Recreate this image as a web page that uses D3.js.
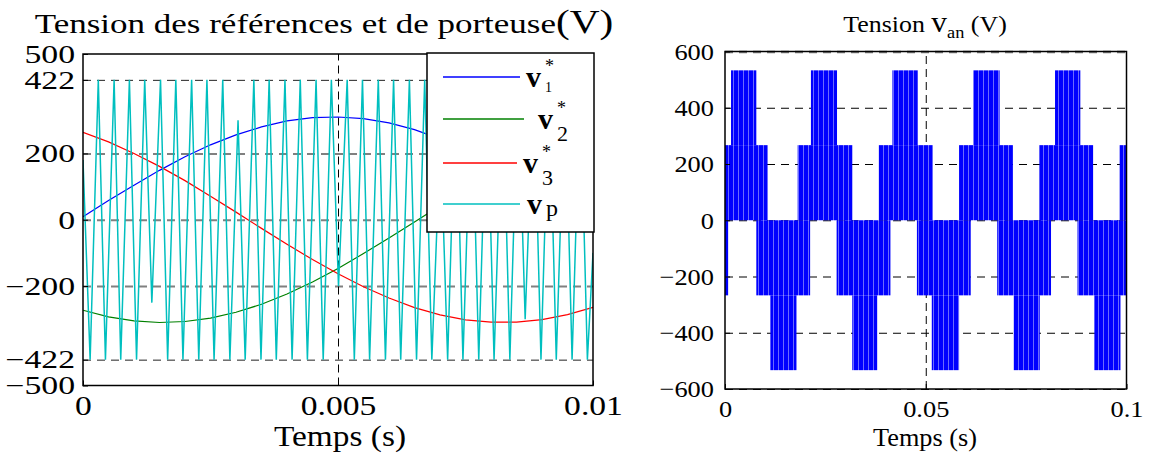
<!DOCTYPE html>
<html><head><meta charset="utf-8">
<script src="https://cdn.jsdelivr.net/npm/d3@7"></script>
<style>
body{margin:0;background:#fff}
svg{display:block}
text{font-family:"Liberation Serif","Times New Roman",serif;fill:#000}
</style>
</head><body>
<svg id="c" width="1149" height="457"></svg>
<script>
// ---------------- DATA ----------------
// reference voltages (left chart), time in s
const refTimes = [0,0.0005,0.001,0.0015,0.002,0.0025,0.003,0.0035,0.004,0.0045,0.005,0.0055,0.006,0.0065,0.007,0.0075,0.008,0.0085,0.009,0.0095,0.01];
const v1Ref = [9,58,104,149,190,226,256,280,298,308,310,305,292,272,244,212,174,133,88,40,-9];
const v2Ref = [-273,-293,-305,-310,-307,-297,-279,-255,-224,-188,-147,-102,-55,-7,42,89,135,177,214,247,273];
const v3Ref = [264,235,200,161,118,71,23,-26,-74,-120,-163,-202,-236,-265,-287,-302,-309,-309,-301,-286,-264];
// carrier vertices (time in ms, value in V)
const carrierT = [0,0.14,0.30,0.44,0.61,0.74,0.91,1.05,1.21,1.35,1.52,1.66,1.82,1.96,2.13,2.27,2.43,2.57,2.74,2.88,3.04,3.18,3.35,3.49,3.65,3.79,3.96,4.10,4.26,4.40,4.57,4.71,4.87,5.01,5.18,5.32,5.48,5.62,5.79,5.93,6.09,6.23,6.40,6.54,6.70,6.84,7.01,7.15,7.31,7.45,7.62,7.76,7.92,8.06,8.23,8.37,8.53,8.67,8.84,8.98,9.14,9.28,9.45,9.59,9.75,9.89,10.0];
const carrierV = [180,-422,422,-422,422,-422,422,-422,422,-250,422,-422,422,-422,422,-422,422,-422,422,-422,300,-422,422,-422,422,-422,422,-422,422,-422,422,-422,422,-200,422,-422,422,-422,422,-422,422,-422,422,-422,422,-422,260,-422,422,-422,422,-422,422,-422,422,-422,422,-300,422,-422,422,-422,422,-422,422,-422,-100];
const legendNames = ["1","2","3","p"];
const legendStar = [true,true,true,false];
const leftYTicks = [500,422,200,0,-200,-422,-500];
const leftYGrid = [422,200,0,-200,-422];
const leftXTicks = [0,0.005,0.01];
const leftXLabels = ["0","0.005","0.01"];

// phase voltage v_an (right chart): switching bands [t0,t1] (s)
const vanLevels = [-533,-267,0,267,533];
const vanPosLow  = [[0,0.0106],[0.0181,0.0317],[0.0383,0.0517],[0.0583,0.0717],[0.0783,0.0917],[0.0983,0.1]];
const vanPosHigh = [[0.0015,0.0078],[0.0214,0.0279],[0.0417,0.0480],[0.0618,0.0684],[0.0822,0.0885]];
const vanNegLow  = [[0,0.0008],[0.0078,0.0212],[0.0278,0.0412],[0.0478,0.0612],[0.0678,0.0812],[0.0878,0.1]];
const vanNegHigh = [[0.0113,0.0178],[0.0317,0.0379],[0.0515,0.0583],[0.0719,0.0784],[0.0920,0.0985]];
const rightYTicks = [600,400,200,0,-200,-400,-600];
const rightXTicks = [0,0.05,0.1];
const rightXLabels = ["0","0.05","0.1"];

// ---------------- DRAW ----------------
const svg = d3.select("#c");
svg.append("rect").attr("width",1149).attr("height",457).attr("fill","#fff");
const defs = svg.append("defs");
const pat = defs.append("pattern").attr("id","stripes").attr("patternUnits","userSpaceOnUse").attr("width",5).attr("height",10);
pat.append("rect").attr("width",5).attr("height",10).attr("fill","#0000ff");
pat.append("rect").attr("x",3).attr("width",1).attr("height",10).attr("fill","#6a6aff");

const colors = ["#0000ff","#008000","#ff0000","#00bfbf"];

// ---- left chart ----
const L = {x0:83, x1:593, y0:54, y1:385.5, sx:1.35, fs:25};
const xL = d3.scaleLinear().domain([0,0.01]).range([L.x0,L.x1]);
const yL = d3.scaleLinear().domain([-500,500]).range([L.y1,L.y0]);
defs.append("clipPath").attr("id","clipL").append("rect")
  .attr("x",L.x0).attr("y",L.y0).attr("width",L.x1-L.x0).attr("height",L.y1-L.y0);

// grid
const gL = svg.append("g");
gL.append("g").attr("transform",`translate(${L.x0},0)`)
  .call(d3.axisLeft(yL).tickValues(leftYGrid).tickSize(-(L.x1-L.x0)).tickFormat(""))
  .call(g=>g.select(".domain").remove())
  .call(g=>g.selectAll("line").attr("stroke",d=>Math.abs(d)===422?"#222":"#808080")
      .attr("stroke-width",d=>Math.abs(d)===422?1:2).attr("stroke-dasharray","8,6"));
gL.append("g").attr("transform",`translate(0,${L.y1})`)
  .call(d3.axisBottom(xL).tickValues([0.005]).tickSize(-(L.y1-L.y0)).tickFormat(""))
  .call(g=>g.select(".domain").remove())
  .call(g=>g.selectAll("line").attr("stroke","#000").attr("stroke-dasharray","8,5"));

// series
const lineRef = (vals)=>d3.line().x((d,i)=>xL(refTimes[i])).y(d=>yL(d))(vals);
const plotL = svg.append("g").attr("clip-path","url(#clipL)");
[v1Ref,v2Ref,v3Ref].forEach((vals,k)=>{
  plotL.append("path").attr("d",lineRef(vals)).attr("fill","none").attr("stroke",colors[k]).attr("stroke-width",1.2);
});
plotL.append("path")
  .attr("d",d3.line().x((d,i)=>xL(carrierT[i]/1000)).y(d=>yL(d))(carrierV))
  .attr("fill","none").attr("stroke",colors[3]).attr("stroke-width",1.5);

// frame + axes
svg.append("rect").attr("x",L.x0).attr("y",L.y0).attr("width",L.x1-L.x0).attr("height",L.y1-L.y0)
  .attr("fill","none").attr("stroke","#000").attr("stroke-width",1.5);
svg.append("g").attr("transform",`translate(${L.x0},0)`)
  .call(d3.axisLeft(yL).tickValues(leftYTicks).tickSizeInner(-5).tickSizeOuter(0).tickFormat(d3.format("d")))
  .call(g=>g.select(".domain").remove())
  .call(g=>g.selectAll("line").attr("stroke","#000"))
  .call(g=>g.selectAll("text").attr("font-size",L.fs).attr("font-family","Liberation Serif")
     .attr("fill","#000").attr("transform",`scale(${L.sx},1)`).attr("x",-8/L.sx).attr("dy","0.33em"));
svg.append("g").attr("transform",`translate(0,${L.y1})`)
  .call(d3.axisBottom(xL).tickValues(leftXTicks).tickSizeInner(-5).tickSizeOuter(0).tickFormat((d,i)=>leftXLabels[i]))
  .call(g=>g.select(".domain").remove())
  .call(g=>g.selectAll("line").attr("stroke","#000"))
  .call(g=>g.selectAll("text").attr("font-size",28).attr("font-family","Liberation Serif")
     .attr("fill","#000").attr("transform",`scale(1.2,1)`).attr("y",30).attr("dy",0));

function stxt(x,y,size,sx,anchor){
  return svg.append("text").attr("transform",`translate(${x},${y}) scale(${sx},1)`)
    .attr("text-anchor",anchor).attr("font-size",size);
}
// title
const tL = stxt(324,33,28,1.25,"middle");
tL.append("tspan").text("Tension des références et de porteuse");
tL.append("tspan").attr("font-size",33).text("(V)");
stxt(340,446,29,1.15,"middle").text("Temps (s)");

// legend
const lg = svg.append("g");
lg.append("rect").attr("x",427).attr("y",53).attr("width",167).attr("height",179)
  .attr("fill","#fff").attr("stroke","#000").attr("stroke-width",1.5);
const legRowY = [77,119,163,204];
const legLineEnd = [520,524,517,520];
const legTextX = [526,538,523,527];
legendNames.forEach((nm,i)=>{
  lg.append("line").attr("x1",443).attr("x2",legLineEnd[i]).attr("y1",legRowY[i]).attr("y2",legRowY[i])
    .attr("stroke",colors[i]).attr("stroke-width",1.5);
  const t = lg.append("text").attr("x",legTextX[i]).attr("y",legRowY[i]+10).attr("font-size",30).attr("font-weight","bold");
  t.append("tspan").text("v");
  if(legendStar[i]){
    lg.append("text").attr("x",legTextX[i]+19).attr("y",legRowY[i]-5).attr("font-size",18).text("*");
    lg.append("text").attr("x",legTextX[i]+19).attr("y",legRowY[i]+(i===0?15:22)).attr("font-size",i===0?14:22).text(nm);
  } else {
    lg.append("text").attr("x",legTextX[i]+19).attr("y",legRowY[i]+12).attr("font-size",24).text(nm);
  }
});

// ---- right chart ----
const R = {x0:725, x1:1126.5, y0:51.5, y1:389, sx:1.1, fs:24};
const xR = d3.scaleLinear().domain([0,0.1]).range([R.x0,R.x1]);
const yR = d3.scaleLinear().domain([-600,600]).range([R.y1,R.y0]);
svg.append("g").attr("transform",`translate(${R.x0},0)`)
  .call(d3.axisLeft(yR).tickValues(rightYTicks).tickSize(-(R.x1-R.x0)).tickFormat(""))
  .call(g=>g.select(".domain").remove())
  .call(g=>g.selectAll("line").attr("stroke",d=>d===600?"#777":"#000").attr("stroke-width",d=>d===600?2.5:1).attr("stroke-dasharray","8,6"));
svg.append("g").attr("transform",`translate(0,${R.y1})`)
  .call(d3.axisBottom(xR).tickValues([0.05]).tickSize(-(R.y1-R.y0)).tickFormat(""))
  .call(g=>g.select(".domain").remove())
  .call(g=>g.selectAll("line").attr("stroke","#000").attr("stroke-dasharray","8,5"));

const plotR = svg.append("g");
const band = (spans,lo,hi)=>{
  plotR.selectAll(null).data(spans).enter().append("rect")
    .attr("x",d=>xR(d[0])).attr("width",d=>xR(d[1])-xR(d[0]))
    .attr("y",yR(hi)).attr("height",yR(lo)-yR(hi))
    .attr("fill","url(#stripes)");
};
band(vanPosLow,vanLevels[2],vanLevels[3]);
band(vanPosHigh,vanLevels[3],vanLevels[4]);
band(vanNegLow,vanLevels[1],vanLevels[2]);
band(vanNegHigh,vanLevels[0],vanLevels[1]);

svg.append("rect").attr("x",R.x0).attr("y",R.y0).attr("width",R.x1-R.x0).attr("height",R.y1-R.y0)
  .attr("fill","none").attr("stroke","#000").attr("stroke-width",1.5);
svg.append("g").attr("transform",`translate(${R.x0},0)`)
  .call(d3.axisLeft(yR).tickValues(rightYTicks).tickSizeInner(-5).tickSizeOuter(0).tickFormat(d3.format("d")))
  .call(g=>g.select(".domain").remove())
  .call(g=>g.selectAll("line").attr("stroke","#000"))
  .call(g=>g.selectAll("text").attr("font-size",R.fs).attr("font-family","Liberation Serif")
     .attr("fill","#000").attr("transform",`scale(${R.sx},1)`).attr("x",-11/R.sx).attr("dy","0.33em"));
svg.append("g").attr("transform",`translate(0,${R.y1})`)
  .call(d3.axisBottom(xR).tickValues(rightXTicks).tickSizeInner(-5).tickSizeOuter(0).tickFormat((d,i)=>rightXLabels[i]))
  .call(g=>g.select(".domain").remove())
  .call(g=>g.selectAll("line").attr("stroke","#000"))
  .call(g=>g.selectAll("text").attr("font-size",R.fs).attr("font-family","Liberation Serif")
     .attr("fill","#000").attr("transform",`scale(${R.sx},1)`).attr("y",28).attr("dy",0));

const tR = stxt(925,32,24,1.08,"middle");
tR.append("tspan").text("Tension ");
tR.append("tspan").attr("font-size",29).text("v");
tR.append("tspan").attr("font-size",17).attr("dy",6).text("an");
tR.append("tspan").attr("dy",-6).text(" (V)");
stxt(925,446,25,1.05,"middle").text("Temps (s)");
</script>
</body></html>
